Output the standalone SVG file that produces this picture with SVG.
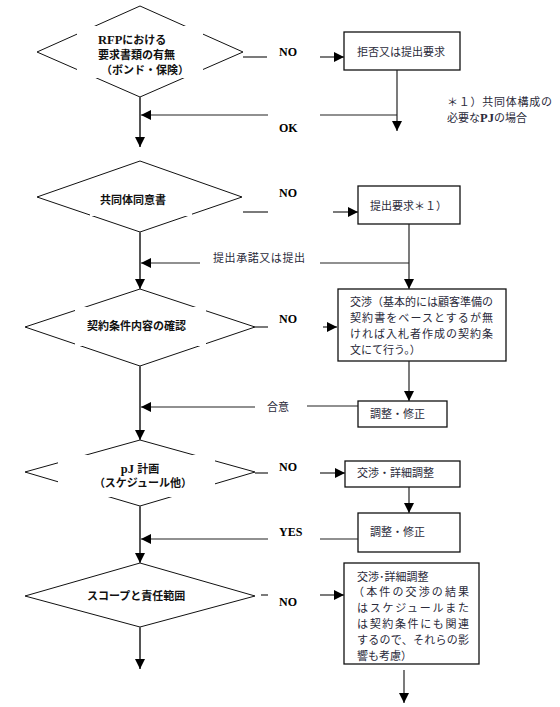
<svg xmlns="http://www.w3.org/2000/svg" width="560" height="707" viewBox="0 0 560 707">
<style>
  .bg { fill: #ffffff; }
  .dia { fill: #ffffff; stroke: #111; stroke-width: 1; }
  .mask { fill: #ffffff; stroke: none; }
  .box { fill: #ffffff; stroke: #111; stroke-width: 1.3; }
  .t { font-family: "Liberation Serif", "Noto Sans CJK JP", serif; font-size: 11px; fill: #2a2a3a; }
  .tb { font-family: "Liberation Serif", "Noto Sans CJK JP", serif; font-size: 11px; font-weight: 600; fill: #111; }
  .lat { font-size: 12.5px; font-weight: bold; }
  .lbl { font-family: "Liberation Serif", "Noto Sans CJK JP", serif; font-size: 12px; font-weight: bold; fill: #000; }
  .main { stroke: #555; stroke-width: 2; fill: none; }
  .ln { stroke: #222; stroke-width: 1.2; fill: none; }
</style>
<defs>
  <marker id="ah" viewBox="0 0 10 10" refX="10" refY="5" markerWidth="10" markerHeight="10" markerUnits="userSpaceOnUse" orient="auto">
    <path d="M0,0 L10,5 L0,10 z" fill="#000"/>
  </marker>
</defs>
<rect class="bg" x="0" y="0" width="560" height="707"/>

<g id="d1">
  <polygon class="dia" points="140,6 243,52 140,97 37,52"/>
  <rect class="mask" x="77" y="26" width="126" height="52"/>
  <text class="tb" x="98" y="44"><tspan class="lat">RFP</tspan>における</text>
  <text class="tb" x="98" y="59">要求書類の有無</text>
  <text class="tb" x="101" y="74">（ボンド・保険）</text>
</g>
<g id="b1">
  <rect class="box" x="344" y="32" width="116" height="38"/>
  <text class="t" x="357" y="56">拒否又は提出要求</text>
</g>
<g id="note1">
  <text class="t" x="447" y="106" textLength="105" lengthAdjust="spacing">＊１）共同体構成の</text>
  <text class="t" x="447" y="122">必要な<tspan class="lat" font-size="12px">PJ</tspan>の場合</text>
</g>

<g id="d2">
  <polygon class="dia" points="140,161 242,197 140,232 37,197"/>
  <rect class="mask" x="90" y="180" width="102" height="36"/>
  <text class="tb" x="100" y="204">共同体同意書</text>
</g>
<g id="b2">
  <rect class="box" x="358" y="186" width="102" height="38"/>
  <text class="t" x="370" y="210">提出要求＊１）</text>
</g>

<g id="d3">
  <polygon class="dia" points="140,289 255,327 140,366 25,327"/>
  <rect class="mask" x="75" y="307" width="131" height="39"/>
  <text class="tb" x="87" y="330">契約条件内容の確認</text>
</g>
<g id="b3">
  <rect class="box" x="338" y="289" width="168" height="72"/>
  <text class="t" x="350" y="306" textLength="143" lengthAdjust="spacing">交渉（基本的には顧客準備の</text>
  <text class="t" x="350" y="322" textLength="143" lengthAdjust="spacing">契約書をベースとするが無</text>
  <text class="t" x="350" y="338" textLength="143" lengthAdjust="spacing">ければ入札者作成の契約条</text>
  <text class="t" x="350" y="354">文にて行う。）</text>
</g>
<g id="b4">
  <rect class="box" x="358" y="401" width="89" height="26"/>
  <text class="t" x="370" y="418">調整・修正</text>
</g>

<g id="d4">
  <polygon class="dia" points="140,440 255,472 140,506 25,472"/>
  <rect class="mask" x="58" y="455" width="157" height="42"/>
  <text class="tb" x="140" y="473" text-anchor="middle"><tspan class="lat" font-size="12px">pJ </tspan>計画</text>
  <text class="tb" x="143" y="487" text-anchor="middle">（スケジュール他）</text>
</g>
<g id="b5">
  <rect class="box" x="345" y="461" width="115" height="26"/>
  <text class="t" x="357" y="477">交渉・詳細調整</text>
</g>
<g id="b6">
  <rect class="box" x="358" y="513" width="102" height="39"/>
  <text class="t" x="370" y="536">調整・修正</text>
</g>

<g id="d5">
  <polygon class="dia" points="140,563 255,596 140,627 25,596"/>
  <text class="tb" x="87" y="600">スコープと責任範囲</text>
</g>
<g id="b7">
  <rect class="box" x="344" y="563" width="135" height="101"/>
  <text class="t" x="357" y="581">交渉･詳細調整</text>
  <text class="t" x="353" y="596" textLength="116" lengthAdjust="spacing">（本件の交渉の結果</text>
  <text class="t" x="357" y="612" textLength="112" lengthAdjust="spacing">はスケジュールまた</text>
  <text class="t" x="357" y="628" textLength="112" lengthAdjust="spacing">は契約条件にも関連</text>
  <text class="t" x="357" y="644" textLength="112" lengthAdjust="spacing">するので、それらの影</text>
  <text class="t" x="357" y="660">響も考慮）</text>
</g>

<g id="connectors">
  <line class="main" x1="140" y1="97" x2="140" y2="147" marker-end="url(#ah)"/>
  <line class="main" x1="140" y1="232" x2="140" y2="289" marker-end="url(#ah)"/>
  <line class="main" x1="140" y1="366" x2="140" y2="440" marker-end="url(#ah)"/>
  <line class="main" x1="140" y1="506" x2="140" y2="563" marker-end="url(#ah)"/>
  <line class="main" x1="140" y1="627" x2="140" y2="669" marker-end="url(#ah)"/>

  <line class="ln" x1="243" y1="57" x2="267" y2="57"/>
  <line class="ln" x1="320" y1="57" x2="344" y2="57" marker-end="url(#ah)"/>
  <text class="lbl" x="279" y="56">NO</text>
  <line class="ln" x1="397" y1="70" x2="397" y2="131" marker-end="url(#ah)"/>
  <line class="ln" x1="397" y1="115" x2="320" y2="115"/>
  <line class="ln" x1="268" y1="115" x2="141" y2="115" marker-end="url(#ah)"/>
  <text class="lbl" x="279" y="132">OK</text>

  <line class="ln" x1="243" y1="212" x2="268" y2="212"/>
  <line class="ln" x1="333" y1="212" x2="358" y2="212" marker-end="url(#ah)"/>
  <text class="lbl" x="279" y="197">NO</text>
  <line class="ln" x1="409" y1="224" x2="409" y2="289" marker-end="url(#ah)"/>
  <line class="ln" x1="409" y1="263" x2="320" y2="263"/>
  <line class="ln" x1="200" y1="263" x2="141" y2="263" marker-end="url(#ah)"/>
  <text class="t" x="213" y="262" textLength="92" lengthAdjust="spacing">提出承諾又は提出</text>

  <line class="ln" x1="255" y1="327" x2="268" y2="327"/>
  <line class="ln" x1="323" y1="327" x2="337" y2="327" marker-end="url(#ah)"/>
  <text class="lbl" x="279" y="323">NO</text>
  <line class="ln" x1="409" y1="361" x2="409" y2="401" marker-end="url(#ah)"/>
  <line class="ln" x1="358" y1="406" x2="307" y2="406"/>
  <line class="ln" x1="255" y1="407" x2="141" y2="407" marker-end="url(#ah)"/>
  <text class="t" x="267" y="411">合意</text>

  <line class="ln" x1="255" y1="473" x2="268" y2="473"/>
  <line class="ln" x1="320" y1="473" x2="345" y2="473" marker-end="url(#ah)"/>
  <text class="lbl" x="279" y="471">NO</text>
  <line class="ln" x1="409" y1="487" x2="409" y2="513" marker-end="url(#ah)"/>
  <line class="ln" x1="358" y1="539" x2="320" y2="539"/>
  <line class="ln" x1="268" y1="539" x2="141" y2="539" marker-end="url(#ah)"/>
  <text class="lbl" x="279" y="536">YES</text>

  <line class="ln" x1="261" y1="595" x2="268" y2="595"/>
  <line class="ln" x1="320" y1="595" x2="344" y2="595" marker-end="url(#ah)"/>
  <text class="lbl" x="279" y="606">NO</text>
  <line class="ln" x1="404" y1="670" x2="404" y2="703" marker-end="url(#ah)"/>
</g>
</svg>
